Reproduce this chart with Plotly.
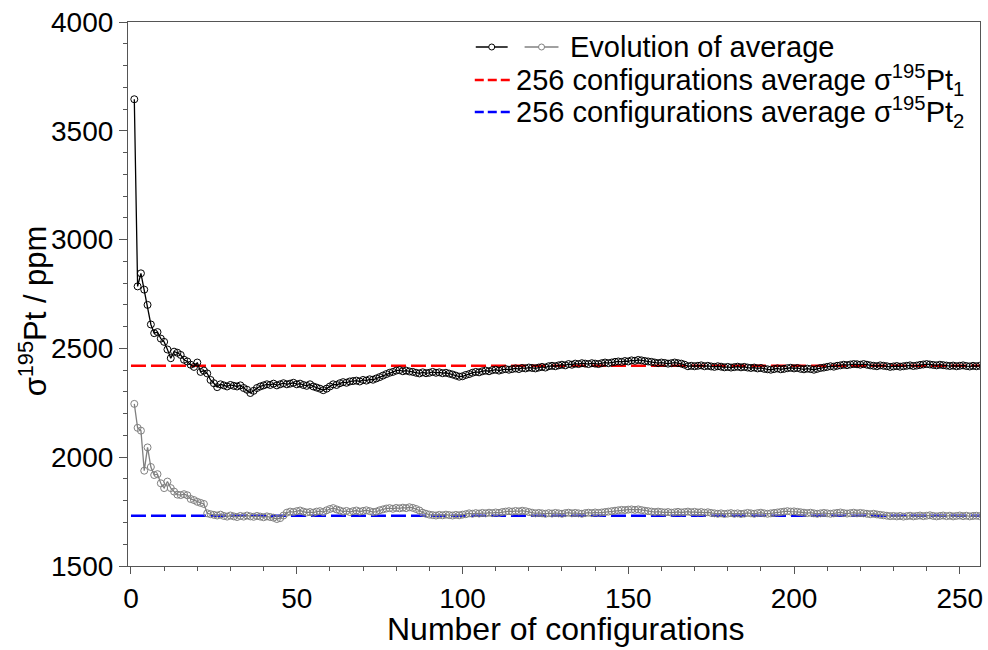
import plotly.graph_objects as go

configs = list(range(1, 257))

avg_pt1 = [
    3645, 2785, 2845, 2770, 2700, 2610, 2570, 2575, 2545, 2530,
    2495, 2455, 2485, 2480, 2470, 2448, 2440, 2425, 2415, 2435,
    2392, 2398, 2385, 2355, 2340, 2322, 2335, 2330, 2325, 2332,
    2328, 2325, 2330, 2318, 2310, 2295, 2305, 2318, 2325, 2330,
    2335, 2332, 2338, 2330, 2335, 2340, 2335, 2338, 2342, 2335,
    2338, 2332, 2328, 2335, 2325, 2320, 2315, 2308, 2315, 2325,
    2335, 2332, 2340, 2345, 2342, 2348, 2350, 2352, 2348, 2355,
    2352, 2358, 2356, 2362, 2368, 2375, 2382, 2388, 2392, 2398,
    2400, 2395, 2398, 2394, 2392, 2388, 2385, 2390, 2386, 2388,
    2392, 2388, 2390, 2386, 2388, 2384, 2380, 2375, 2370, 2372,
    2378, 2382, 2388, 2392, 2390, 2395, 2398, 2395, 2400, 2402,
    2398, 2402, 2405, 2402, 2405, 2408, 2405, 2410, 2408, 2412,
    2410, 2408, 2412, 2415, 2412, 2418, 2420, 2418, 2422, 2425,
    2422, 2428, 2425, 2430, 2428, 2432, 2430, 2428, 2432, 2430,
    2428, 2432, 2435, 2432, 2435, 2438, 2440, 2438, 2442, 2440,
    2445, 2443, 2447, 2445, 2442, 2440, 2438, 2435, 2432, 2435,
    2433, 2430, 2432, 2435, 2432, 2430, 2425, 2418, 2420, 2418,
    2420, 2422, 2418, 2420, 2417, 2415, 2418, 2416, 2413, 2415,
    2412, 2414, 2416, 2413, 2415, 2412, 2410, 2412, 2408, 2410,
    2406, 2404, 2402, 2405, 2408, 2404, 2406, 2409, 2411, 2408,
    2410, 2406, 2404, 2407, 2405, 2402, 2406, 2410, 2412, 2415,
    2418, 2416, 2420, 2422, 2425, 2423, 2426, 2428, 2427, 2425,
    2428, 2425, 2422, 2420, 2418, 2422, 2420, 2418, 2415, 2417,
    2419, 2416, 2418, 2420, 2422, 2419, 2421, 2424, 2426, 2428,
    2426, 2424, 2422, 2425, 2423, 2421, 2419, 2421, 2418, 2420,
    2422, 2419, 2417, 2420, 2418, 2420,
]

avg_pt2 = [
    2245, 2135, 2122, 1938, 2045, 1955, 1918, 1922, 1880, 1858,
    1888, 1858, 1842, 1828, 1826, 1830, 1825, 1808, 1803, 1795,
    1790, 1785, 1742, 1738, 1735, 1732, 1736, 1730, 1727, 1732,
    1728, 1725, 1730, 1727, 1732, 1728, 1726, 1730, 1727, 1724,
    1728, 1725, 1722, 1716, 1720, 1732, 1745, 1750, 1748, 1752,
    1755, 1750, 1746, 1748, 1745, 1750, 1752, 1748, 1756, 1762,
    1766, 1760, 1755, 1750, 1753, 1748, 1752, 1755, 1750, 1753,
    1756, 1752, 1748, 1750, 1756, 1760, 1764, 1766, 1763, 1767,
    1765, 1768, 1766, 1770, 1767, 1762, 1755, 1745, 1740, 1736,
    1734, 1732, 1735, 1733, 1736, 1734, 1732, 1735, 1733, 1736,
    1738, 1742, 1740, 1743, 1741, 1744, 1742, 1745, 1743, 1746,
    1744, 1748, 1750, 1752, 1750, 1753, 1751, 1754, 1752, 1748,
    1745, 1742, 1744, 1742, 1740, 1743, 1741, 1744, 1742, 1740,
    1743, 1745, 1742, 1744, 1742, 1740, 1743, 1745, 1743, 1746,
    1744, 1746, 1748, 1750, 1752, 1754, 1756, 1758, 1757, 1759,
    1760, 1758, 1760, 1757, 1754, 1752, 1750, 1748, 1750, 1748,
    1746, 1748, 1745, 1747, 1749, 1746, 1748, 1750, 1747, 1749,
    1746, 1748, 1745, 1747, 1744, 1742, 1740, 1742, 1739, 1741,
    1743, 1740, 1742, 1739, 1741, 1744, 1742, 1740, 1743, 1745,
    1742, 1740, 1742, 1744, 1746, 1748, 1750, 1752, 1750, 1751,
    1749, 1747, 1745, 1743, 1745, 1742, 1740, 1742, 1744, 1742,
    1740, 1742, 1744, 1746, 1743, 1741, 1743, 1745, 1742, 1744,
    1742, 1740, 1738, 1740, 1737, 1735, 1733, 1731, 1729, 1730,
    1728, 1730, 1727, 1729, 1731, 1728, 1730, 1732, 1729, 1731,
    1733, 1730, 1728, 1730, 1732, 1729, 1731, 1728, 1730, 1732,
    1729, 1731, 1728, 1730, 1731, 1729,
]

full_avg_pt1 = 2420
full_avg_pt2 = 1731
line_x = [0, configs[-1]]

x_ticks = [0, 50, 100, 150, 200, 250]
y_ticks = [1500, 2000, 2500, 3000, 3500, 4000]

FONT = "Liberation Sans, Arial, sans-serif"
GRAY = "#808080"

fig = go.Figure()

fig.add_trace(go.Scatter(
    x=line_x, y=[full_avg_pt1] * 2, mode="lines",
    line=dict(color="#ff0000", width=2.5, dash="15px,5px"), showlegend=False))
fig.add_trace(go.Scatter(
    x=line_x, y=[full_avg_pt2] * 2, mode="lines",
    line=dict(color="#0000ff", width=2.5, dash="15px,5px"), showlegend=False))

fig.add_trace(go.Scatter(
    x=configs, y=avg_pt2, mode="lines+markers",
    line=dict(color=GRAY, width=1.3),
    marker=dict(symbol="circle-open", size=7, color=GRAY, line=dict(width=1)),
    showlegend=False))
fig.add_trace(go.Scatter(
    x=configs, y=avg_pt1, mode="lines+markers",
    line=dict(color="black", width=1.3),
    marker=dict(symbol="circle-open", size=7, color="black", line=dict(width=1)),
    showlegend=False))

# ---- manual legend and titles (paper coordinates) ----
L, R, T, B = 128, 5, 22, 84
W, H = 988, 650
pw, ph = W - L - R, H - T - B


def px(x):
    return (x - L) / pw


def py(y):
    return (H - B - y) / ph


shapes = []
annotations = []
rows = [47, 80, 112]
LEG_SIZE = 29

for (x0, x1, col) in [(477, 509, "black"), (526, 560, GRAY)]:
    shapes.append(dict(type="line", xref="paper", yref="paper",
                       x0=px(x0), x1=px(x1), y0=py(rows[0]), y1=py(rows[0]),
                       line=dict(color=col, width=1.3)))
    shapes.append(dict(type="circle", xref="paper", yref="paper",
                       xsizemode="pixel", ysizemode="pixel",
                       xanchor=px((x0 + x1) / 2), yanchor=py(rows[0]),
                       x0=-3, x1=3, y0=-3, y1=3,
                       fillcolor="white", line=dict(color=col, width=1)))
annotations.append(dict(xref="paper", yref="paper", x=px(570), y=py(rows[0]),
                        xanchor="left", yanchor="middle", showarrow=False,
                        text="Evolution of average",
                        font=dict(family=FONT, size=LEG_SIZE, color="black")))

for row, col, idx in [(rows[1], "#ff0000", 1), (rows[2], "#0000ff", 2)]:
    shapes.append(dict(type="line", xref="paper", yref="paper",
                       x0=px(476), x1=px(512), y0=py(row), y1=py(row),
                       line=dict(color=col, width=2.5, dash="9px,4px")))
    annotations.append(dict(xref="paper", yref="paper", x=px(515), y=py(row),
                            xanchor="left", yanchor="middle", showarrow=False,
                            text=f"256 configurations average σ<sup>195</sup>Pt<sub>{idx}</sub>",
                            font=dict(family=FONT, size=LEG_SIZE, color="black")))

annotations.append(dict(xref="paper", yref="paper", x=px(568), y=py(629),
                        xanchor="center", yanchor="middle", showarrow=False,
                        text="Number of configurations",
                        font=dict(family=FONT, size=32, color="black")))
annotations.append(dict(xref="paper", yref="paper", x=px(33), y=py(311),
                        xanchor="center", yanchor="middle", showarrow=False,
                        textangle=-90,
                        text="σ<sup>195</sup>Pt / ppm",
                        font=dict(family=FONT, size=31, color="black")))

fig.update_layout(
    width=W, height=H,
    margin=dict(l=L, r=R, t=T, b=B),
    paper_bgcolor="white", plot_bgcolor="white",
    font=dict(family=FONT, color="black"),
    shapes=shapes, annotations=annotations,
    showlegend=False,
)

fig.update_xaxes(
    range=[-0.9, 256.1], tickvals=x_ticks, ticks="outside", ticklen=7, tickwidth=1,
    tickcolor="#555", showline=True, linecolor="#555", linewidth=1.2, mirror=True,
    showgrid=False, zeroline=False,
    minor=dict(dtick=10, ticks="outside", ticklen=4, tickcolor="#555"),
    tickfont=dict(family=FONT, size=28, color="black"),
)
fig.update_yaxes(
    range=[1500, 4000], tickvals=y_ticks, ticks="outside", ticklen=8, tickwidth=1,
    tickcolor="#555", showline=True, linecolor="#555", linewidth=1.2, mirror=True,
    showgrid=False, zeroline=False,
    minor=dict(dtick=100, ticks="outside", ticklen=4, tickcolor="#555"),
    tickfont=dict(family=FONT, size=28, color="black"),
)

fig.write_html("out.html")
